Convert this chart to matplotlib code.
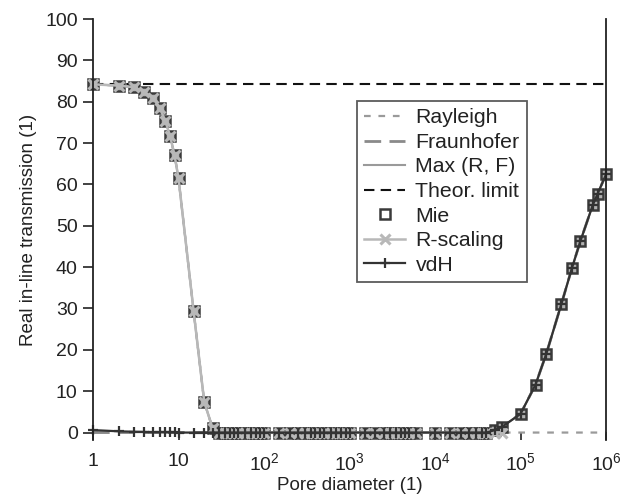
import numpy as np
import matplotlib
matplotlib.use('Agg')
import matplotlib.pyplot as plt

plt.rcParams['font.family'] = ['Liberation Sans', 'DejaVu Sans']
plt.rcParams['mathtext.fontset'] = 'custom'
plt.rcParams['mathtext.rm'] = 'Liberation Sans'

# ---------- data ----------
d = [1, 2, 3, 4, 5, 6, 7, 8, 9, 10, 15, 20, 25, 30, 35, 40, 45, 50, 60, 70,
     80, 90, 100, 150, 200, 250, 300, 350, 400, 450, 500, 600, 700, 800, 900,
     1000, 1500, 2000, 2500, 3000, 3500, 4000, 4500, 5000, 6000, 10000, 15000,
     20000, 25000, 30000, 35000, 40000, 50000, 60000, 100000, 150000, 200000,
     300000, 400000, 500000, 700000, 800000, 1000000]

left_vals = [84.2, 83.9, 83.5, 82.4, 80.9, 78.6, 75.4, 71.6, 67.0, 61.5,
             29.5, 7.4, 1.1]
right_vals = [0.6, 1.3, 4.5, 11.6, 19.0, 31.0, 39.8, 46.2, 55.0, 57.8, 62.4]
mid_zero = [0.0] * (len(d) - len(left_vals) - len(right_vals))

mie = left_vals + mid_zero + right_vals
r_scaling = left_vals + mid_zero + [0.0, 0.0] + [np.nan] * (len(right_vals) - 2)
vdh_left = [0.6, 0.3, 0.2, 0.15, 0.1, 0.1, 0.05, 0.05, 0.05, 0.0,
            0.0, 0.0, 0.0]
vdh = vdh_left + mid_zero + right_vals
rayleigh = left_vals + mid_zero + [0.0] * len(right_vals)
fraunhofer = [0.0] * len(left_vals) + mid_zero + right_vals
max_rf = list(np.maximum(rayleigh, fraunhofer))
theor_limit = 84.2

xticks = [1, 10, 1e2, 1e3, 1e4, 1e5, 1e6]
xtick_labels = ['1', '10', r'$\mathregular{10^2}$', r'$\mathregular{10^3}$',
                r'$\mathregular{10^4}$', r'$\mathregular{10^5}$',
                r'$\mathregular{10^6}$']
yticks = list(range(0, 101, 10))

# ---------- plot ----------
fig = plt.figure(figsize=(6.29, 5.01), dpi=100)
ax = fig.add_axes([93 / 629, 1 - 440 / 501, (606 - 93) / 629, (440 - 19) / 501])

ax.plot(d, fraunhofer, color='#8a8a8a', lw=2.0, dashes=(6, 3), label='Fraunhofer')
ax.plot(d, max_rf, color='#9a9a9a', lw=1.5, label='Max (R, F)')
ax.plot(d, rayleigh, color='#9a9a9a', lw=1.6, dashes=(3, 3.5), label='Rayleigh')
ax.axhline(theor_limit, color='#111111', lw=1.5, dashes=(5, 3),
           label='Theor. limit')
ax.plot(d, mie, ls='none', marker='s', ms=7.5, mec='#3a3a3a', mfc='#b0b0b0',
        mew=1.8, label='Mie', clip_on=False)
ax.plot(d, r_scaling, color='#b8b8b8', lw=1.8, marker='x', ms=6.5, mew=2.2,
        label='R-scaling', clip_on=False)
ax.plot(d, vdh, color='#333333', lw=1.6, marker='+', ms=7, mew=1.6,
        label='vdH', clip_on=False)

ax.set_xscale('log')
ax.set_xlim(1, 1e6)
ax.set_ylim(-1.8, 100)
ax.set_xticks(xticks)
ax.set_xticklabels(xtick_labels)
ax.minorticks_off()
ax.set_yticks(yticks)

ax.spines['top'].set_visible(False)
ax.spines['bottom'].set_visible(False)
for s in ('left', 'right'):
    ax.spines[s].set_color('#222222')
    ax.spines[s].set_linewidth(1.3)

ax.tick_params(axis='x', direction='in', length=6, width=1.2, color='#222222',
               labelsize=14, pad=9, labelcolor='#222222')
ax.tick_params(axis='y', direction='out', length=7, width=1.2, color='#222222',
               labelsize=14, pad=4, labelcolor='#222222')

ax.set_xlabel('Pore diameter (1)', fontsize=13.5, color='#222222', labelpad=2)
ax.set_ylabel('Real in-line transmission (1)', fontsize=13.5, color='#222222',
              labelpad=6)

# legend in the original order
handles, labels = ax.get_legend_handles_labels()
order = ['Rayleigh', 'Fraunhofer', 'Max (R, F)', 'Theor. limit', 'Mie',
         'R-scaling', 'vdH']
hmap = dict(zip(labels, handles))
leg = ax.legend([hmap[k] for k in order], order,
                loc='upper left', bbox_to_anchor=(357 / 629, 1 - 101 / 501),
                bbox_transform=fig.transFigure, borderaxespad=0,
                fontsize=15.3, frameon=True, fancybox=False, handlelength=1.9,
                handletextpad=0.5, labelspacing=0.26, borderpad=0.35)
leg.get_frame().set_edgecolor('#333333')
leg.get_frame().set_linewidth(1.3)
leg.legend_handles[4].set_markerfacecolor('white')
for t in leg.get_texts():
    t.set_color('#222222')

fig.savefig('out.png', dpi=100)
